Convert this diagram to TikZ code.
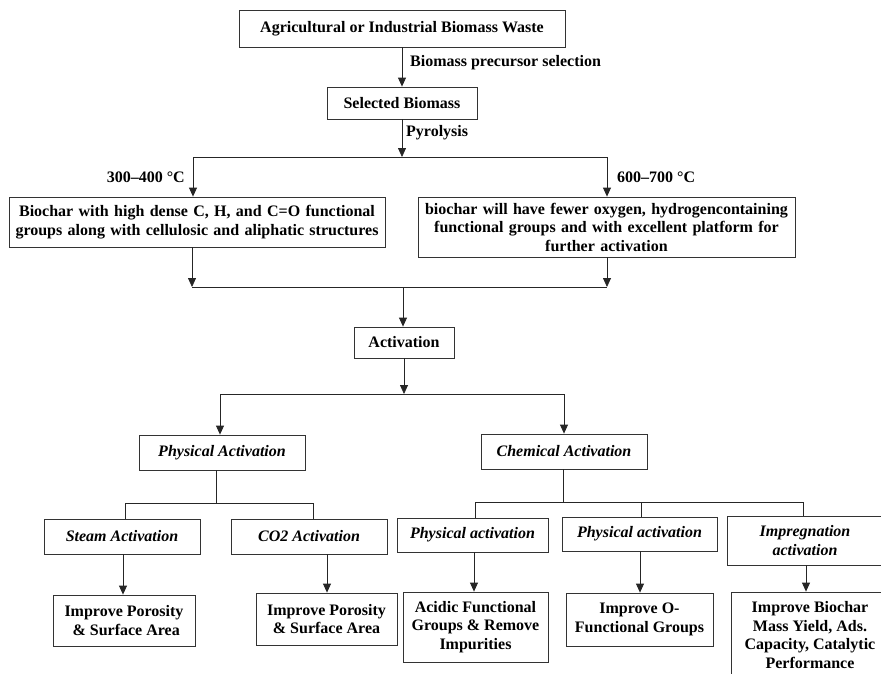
\documentclass[tikz,border=0pt]{standalone}
\usepackage{fontspec}
\setmainfont{Liberation Serif}
\usetikzlibrary{arrows.meta}
\tikzset{
  x=1pt, y=-1pt,
  bx/.style={draw=black!80, line width=0.8pt, fill=white, align=center, inner sep=2pt,
    font=\fontsize{16}{18.5}\selectfont\bfseries},
  ibx/.style={bx, font=\fontsize{16}{18.5}\selectfont\bfseries\itshape},
  ln/.style={draw=black!85, line width=0.8pt},
  arr/.style={ln, -{Triangle[width=8pt,length=9pt]}},
  lab/.style={font=\fontsize{16}{18.5}\selectfont\bfseries, inner sep=0pt}
}
\begin{document}
\begin{tikzpicture}
\useasboundingbox (0,0) rectangle (881,673);
\clip (0,0) rectangle (881,673);
% boxes
\node[bx, minimum width=326pt, minimum height=37pt] (waste) at (402,28.5) {Agricultural or Industrial Biomass Waste};
\node[bx, minimum width=150pt, minimum height=32pt] (sel) at (402,103) {Selected Biomass};
\node[bx, minimum width=376pt, minimum height=50pt, text width=370pt] (low) at (197,222) {Biochar with high dense C, H, and C=O functional\\groups along with cellulosic and aliphatic structures};
\node[bx, minimum width=377pt, minimum height=60pt, text width=370pt] (high) at (606.5,227) {biochar will have fewer oxygen, hydrogencontaining\\functional groups and with excellent platform for\\further activation};
\node[bx, minimum width=100pt, minimum height=31pt] (act) at (404,342.5) {Activation};
\node[ibx, minimum width=166pt, minimum height=35pt] (phys) at (222,452.5) {Physical Activation};
\node[ibx, minimum width=166pt, minimum height=35pt] (chem) at (564,451.5) {Chemical Activation};
\node[ibx, minimum width=156pt, minimum height=35pt] (steam) at (122,536.5) {Steam Activation};
\node[ibx, minimum width=156pt, minimum height=35pt] (co2) at (309,536.5) {CO2 Activation};
\node[bx, minimum width=142pt, minimum height=51pt] (imp1) at (124,620.5) {Improve Porosity\\\phantom{i}\& Surface Area};
\node[bx, minimum width=141pt, minimum height=52pt] (imp2) at (326.5,619) {Improve Porosity\\\& Surface Area};
\node[ibx, minimum width=151pt, minimum height=34pt] (c1) at (472.5,535) {Physical activation};
\node[ibx, minimum width=155pt, minimum height=34pt] (c2) at (639.5,534) {Physical activation};
\node[ibx, minimum width=156pt, minimum height=49pt] (c3) at (805,540.5) {Impregnation\\activation};
\node[bx, minimum width=145pt, minimum height=70pt] (acid) at (475.5,627) {Acidic Functional\\Groups \& Remove\\Impurities};
\node[bx, minimum width=147pt, minimum height=53pt] (impO) at (639.5,619.5) {Improve O-\\Functional Groups};
\node[bx, minimum width=158pt, minimum height=86pt] (impB) at (810,635) {Improve Biochar\\Mass Yield, Ads.\\Capacity, Catalytic\\Performance};
% labels
\node[lab, anchor=west] (l1) at (410,63) {Biomass precursor selection};
\node[lab, anchor=west] (l2) at (406,133) {Pyrolysis};
\node[lab, anchor=east] (l3) at (185,177) {300–400 °C};
\node[lab, anchor=west] (l4) at (617,177) {600–700 °C};
% junction coordinates
\coordinate (j1) at (402,157);
\coordinate (j1l) at (193,157);
\coordinate (j1r) at (607,157);
\coordinate (j2) at (403,287);
\coordinate (j2l) at (192,287);
\coordinate (j2r) at (607,287);
\coordinate (j3) at (404,394);
\coordinate (j3l) at (220,394);
\coordinate (j3r) at (564,394);
\coordinate (j4) at (216,503);
\coordinate (j4l) at (125,503);
\coordinate (j4r) at (313,503);
\coordinate (j5) at (563,502);
\coordinate (j5l) at (475,502);
\coordinate (j5m) at (641,502);
\coordinate (j5r) at (803,502);
% connectors
\draw[arr] (waste.south) -- (sel.north);
\draw[arr] (sel.south -| j1) -- (j1);
\draw[ln] (j1l) -- (j1r);
\draw[arr] (j1l) -- (j1l |- low.north);
\draw[arr] (j1r) -- (j1r |- high.north);
\draw[arr] (j2l |- low.south) -- (j2l);
\draw[arr] (j2r |- high.south) -- (j2r);
\draw[ln] (j2l) -- (j2r);
\draw[arr] (j2) -- (j2 |- act.north);
\draw[arr] (act.south -| j3) -- (j3);
\draw[ln] (j3l) -- (j3r);
\draw[arr] (j3l) -- (j3l |- phys.north);
\draw[arr] (j3r) -- (j3r |- chem.north);
\draw[ln] (j4 |- phys.south) -- (j4);
\draw[ln] (j4l |- steam.north) -- (j4l) -- (j4r) -- (j4r |- co2.north);
\draw[arr] (123,554) coordinate (s1) (steam.south -| s1) -- (s1 |- imp1.north);
\draw[arr] (327,554) coordinate (s2) (co2.south -| s2) -- (s2 |- imp2.north);
\draw[ln] (j5 |- chem.south) -- (j5);
\draw[ln] (j5l |- c1.north) -- (j5l) -- (j5r) -- (j5r |- c3.north);
\draw[ln] (j5m) -- (j5m |- c2.north);
\draw[arr] (474,552) coordinate (s3) (c1.south -| s3) -- (s3 |- acid.north);
\draw[arr] (640,552) coordinate (s4) (c2.south -| s4) -- (s4 |- impO.north);
\draw[arr] (806,565) coordinate (s5) (c3.south -| s5) -- (s5 |- impB.north);
\end{tikzpicture}
\end{document}
